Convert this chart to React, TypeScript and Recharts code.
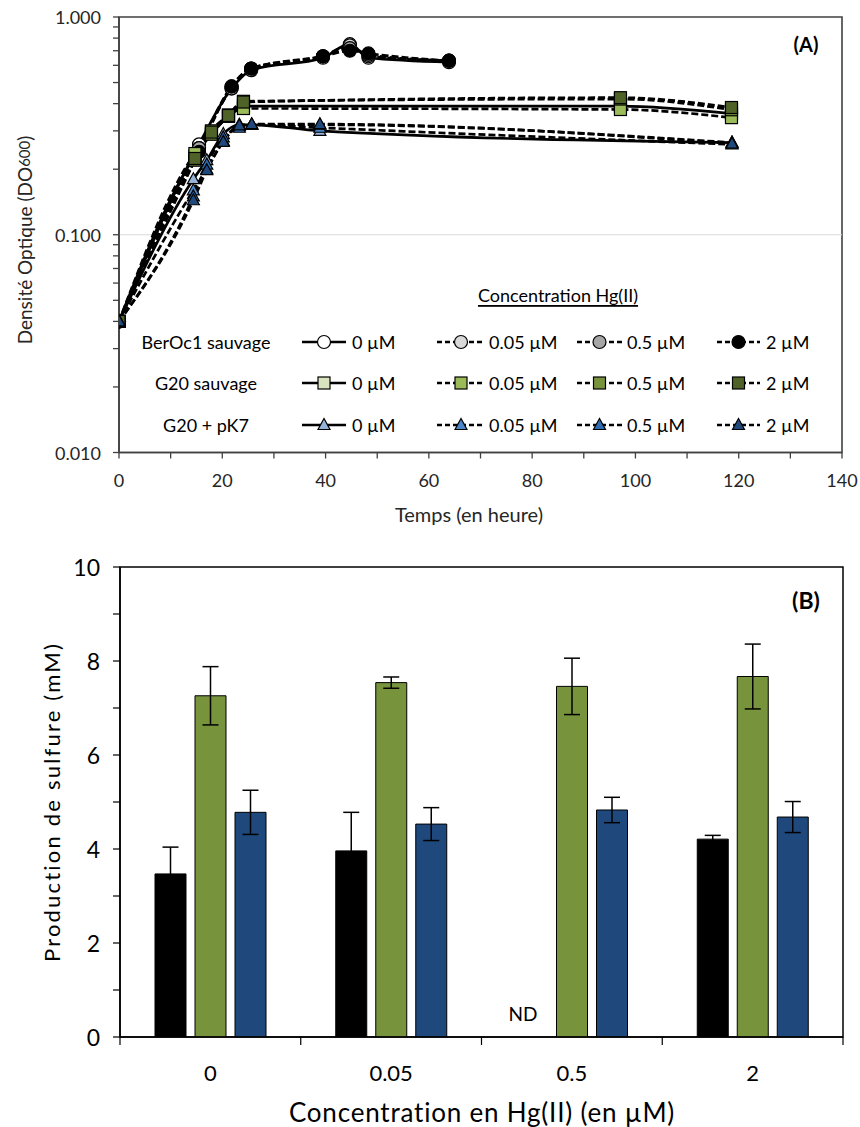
import React from 'react';
import {
  LineChart, Line, XAxis, YAxis, ReferenceLine, ReferenceArea, ReferenceDot,
  BarChart, Bar, ErrorBar,
} from 'recharts';

const FONT = 'Lato, "Open Sans", sans-serif';

// ---------- Panel A data ----------
const berocTimes = [0, 15.5, 21.8, 25.6, 39.5, 44.7, 48.3, 63.9];
const beroc0 = [0.04, 0.26, 0.47, 0.57, 0.65, 0.75, 0.65, 0.62];
const beroc005 = [0.04, 0.25, 0.47, 0.58, 0.66, 0.74, 0.66, 0.63];
const beroc05 = [0.04, 0.25, 0.48, 0.58, 0.66, 0.72, 0.67, 0.63];
const beroc2 = [0.04, 0.24, 0.48, 0.58, 0.66, 0.70, 0.68, 0.63];

const g20Times = [0, 14.7, 17.9, 21.2, 24.1, 97.1, 118.6];
const g200 = [0.04, 0.23, 0.29, 0.35, 0.39, 0.39, 0.36];
const g20005 = [0.04, 0.236, 0.29, 0.35, 0.38, 0.376, 0.345];
const g2005 = [0.04, 0.22, 0.30, 0.355, 0.41, 0.42, 0.375];
const g202 = [0.04, 0.224, 0.296, 0.353, 0.407, 0.426, 0.384];

const pk7Times = [0, 14.4, 17.0, 20.2, 23.3, 25.7, 38.9, 118.7];
const pk70 = [0.04, 0.18, 0.22, 0.29, 0.32, 0.32, 0.30, 0.265];
const pk7005 = [0.04, 0.16, 0.20, 0.27, 0.315, 0.32, 0.31, 0.26];
const pk705 = [0.04, 0.15, 0.21, 0.28, 0.31, 0.32, 0.32, 0.265];
const pk72 = [0.04, 0.144, 0.198, 0.267, 0.318, 0.322, 0.322, 0.262];

const strainNames = ['BerOc1 sauvage', 'G20 sauvage', 'G20 + pK7'];
const concLabels = ['0 µM', '0.05 µM', '0.5 µM', '2 µM'];
const berocColors = ['#FFFFFF', '#D9D9D9', '#A6A6A6', '#000000'];
const g20Colors = ['#D7E4BD', '#9BBB59', '#77933C', '#4F6228'];
const pk7Colors = ['#95B3D7', '#4A86C8', '#2E6BB0', '#1F497D'];

const timeTicks = [0, 10, 20, 30, 40, 50, 60, 70, 80, 90, 100, 110, 120, 130, 140];
const odTicks = [0.01, 0.02, 0.03, 0.04, 0.05, 0.06, 0.07, 0.08, 0.09,
  0.1, 0.2, 0.3, 0.4, 0.5, 0.6, 0.7, 0.8, 0.9, 1];
const odMajor = [0.01, 0.1, 1];

// ---------- Panel B data ----------
const concCategories = ['0', '0.05', '0.5', '2'];
const berocSulfide = [3.47, 3.96, null, 4.21];
const berocSulfideErr = [0.57, 0.82, null, 0.08];
const g20Sulfide = [7.26, 7.54, 7.46, 7.67];
const g20SulfideErr = [0.62, 0.12, 0.6, 0.69];
const pk7Sulfide = [4.78, 4.53, 4.83, 4.68];
const pk7SulfideErr = [0.47, 0.35, 0.27, 0.33];
const barColors = ['#000000', '#77933C', '#1F497D'];
const sulfTicks = [0, 1, 2, 3, 4, 5, 6, 7, 8, 9, 10];

const BAR_SIZE = 31;
const BAR_GAP = 9;

type Shape = 'circle' | 'square' | 'triangle';

const strains: { name: string; shape: Shape; times: number[]; series: number[][]; colors: string[] }[] = [
  { name: strainNames[0], shape: 'circle', times: berocTimes, series: [beroc0, beroc005, beroc05, beroc2], colors: berocColors },
  { name: strainNames[1], shape: 'square', times: g20Times, series: [g200, g20005, g2005, g202], colors: g20Colors },
  { name: strainNames[2], shape: 'triangle', times: pk7Times, series: [pk70, pk7005, pk705, pk72], colors: pk7Colors },
];

function Marker({ shape, cx, cy, fill }: { shape: Shape; cx: number; cy: number; fill: string }) {
  if (shape === 'circle') return <circle cx={cx} cy={cy} r={6.5} fill={fill} stroke="#000" strokeWidth={1.2} />;
  if (shape === 'square') return <rect x={cx - 6} y={cy - 6} width={12} height={12} fill={fill} stroke="#000" strokeWidth={1.2} />;
  return <polygon points={`${cx},${cy - 6.5} ${cx - 6},${cy + 4.5} ${cx + 6},${cy + 4.5}`} fill={fill} stroke="#000" strokeWidth={1.2} />;
}

const makeDot = (shape: Shape, fill: string) => (props: any) => {
  const { cx, cy, index } = props;
  const k = `d-${shape}-${fill}-${index}`;
  if (cx == null || cy == null || isNaN(cx) || isNaN(cy)) return <g key={k} />;
  return <g key={k}><Marker shape={shape} cx={cx} cy={cy} fill={fill} /></g>;
};

const XTickA = (props: any) => {
  const { x, y, payload } = props;
  if (payload.value % 20 !== 0) return <g />;
  return (
    <text x={x} y={y} textAnchor="middle" dominantBaseline="central" fontSize={18} fontFamily={FONT} fill="#262626">
      {payload.value}
    </text>
  );
};

const YTickA = (props: any) => {
  const { x, y, payload } = props;
  const v = payload.value;
  if (!odMajor.some((m) => Math.abs(m - v) < 1e-9)) return <g />;
  return (
    <text x={x} y={y} textAnchor="end" dominantBaseline="central" fontSize={18} fontFamily={FONT} fill="#262626">
      {v.toFixed(3)}
    </text>
  );
};

const YTickB = (props: any) => {
  const { x, y, payload } = props;
  if (payload.value % 2 !== 0) return <g />;
  return (
    <text x={x} y={y} textAnchor="end" dominantBaseline="central" fontSize={23} fontFamily={FONT} fill="#000">
      {payload.value}
    </text>
  );
};

const B_TICK_MARGIN = 35;
const XTickB = (props: any) => {
  const { x, y, payload, index, visibleTicksCount } = props;
  const half = Number(payload.offset) || 0;
  const axisY = y - B_TICK_MARGIN;
  const last = index === (visibleTicksCount ?? concCategories.length) - 1;
  return (
    <g>
      <line x1={x - half} x2={x - half} y1={axisY} y2={axisY + 8} stroke="#000" strokeWidth={1.2} />
      {last && <line x1={x + half} x2={x + half} y1={axisY} y2={axisY + 8} stroke="#000" strokeWidth={1.2} />}
      <text x={x} y={y} textAnchor="middle" dominantBaseline="central" fontSize={22} fontFamily={FONT} fill="#000">
        {payload.value}
      </text>
    </g>
  );
};

const NDShape = (props: any) => {
  const { cx, cy } = props;
  if (cx == null || cy == null) return <g />;
  return (
    <text x={cx - (BAR_SIZE + BAR_GAP) - 9} y={cy - 24} textAnchor="middle" dominantBaseline="central" fontSize={19} fontFamily={FONT} fill="#000">
      ND
    </text>
  );
};

const legendCols = [
  { x1: 302, x2: 346, tx: 352 },
  { x1: 437, x2: 485, tx: 489 },
  { x1: 577, x2: 622, tx: 627 },
  { x1: 717, x2: 760, tx: 766 },
];
const legendRows = [342, 383, 425];

function Overlay() {
  return (
    <svg width={860} height={1127} style={{ position: 'absolute', left: 0, top: 0, pointerEvents: 'none' }} fontFamily={FONT}>
      {/* Panel A titles */}
      <text x={24} y={240} transform="rotate(-90 24 240)" textAnchor="middle" dominantBaseline="central" fontSize={19} fill="#262626">
        Densité Optique (DO<tspan fontSize={15}>600</tspan>)
      </text>
      <text x={469} y={514} textAnchor="middle" dominantBaseline="central" fontSize={20} fill="#262626">Temps (en heure)</text>
      <text x={806} y={44} textAnchor="middle" dominantBaseline="central" fontSize={20} fontWeight="bold" fill="#000">(A)</text>
      {/* Legend */}
      <text x={558} y={295} textAnchor="middle" dominantBaseline="central" fontSize={18} fill="#000" textDecoration="underline">
        Concentration Hg(II)
      </text>
      {strains.map((s, ri) => (
        <g key={s.name}>
          <text x={206} y={legendRows[ri]} textAnchor="middle" dominantBaseline="central" fontSize={18} fill="#000">{s.name}</text>
          {legendCols.map((c, ci) => {
            const y = legendRows[ri];
            const mx = (c.x1 + c.x2) / 2;
            return (
              <g key={ci}>
                <line x1={c.x1} x2={c.x2} y1={y} y2={y} stroke="#000" strokeWidth={2.4} strokeDasharray={ci === 0 ? undefined : '5 3'} />
                <Marker shape={s.shape} cx={mx} cy={y} fill={s.colors[ci]} />
                <text x={c.tx} y={y} dominantBaseline="central" fontSize={18} fill="#000">{concLabels[ci]}</text>
              </g>
            );
          })}
        </g>
      ))}
      {/* Panel B titles */}
      <text x={51} y={802} transform="rotate(-90 51 802)" textAnchor="middle" dominantBaseline="central" fontSize={22} letterSpacing={2.2} fill="#000">
        Production de sulfure (mM)
      </text>
      <text x={482} y={1112} textAnchor="middle" dominantBaseline="central" fontSize={26} letterSpacing={0.8} fill="#000">Concentration en Hg(II) (en µM)</text>
      <text x={806} y={600} textAnchor="middle" dominantBaseline="central" fontSize={23} fontWeight="bold" fill="#000">(B)</text>
    </svg>
  );
}

export default function App() {
  const barData = concCategories.map((c, i) => ({
    conc: c,
    beroc: berocSulfide[i],
    berocErr: berocSulfideErr[i],
    g20: g20Sulfide[i],
    g20Err: g20SulfideErr[i],
    pk7: pk7Sulfide[i],
    pk7Err: pk7SulfideErr[i],
  }));
  const ndIndex = berocSulfide.findIndex((v) => v == null);

  const axisGrey = '#404040';

  return (
    <div style={{ position: 'absolute', left: 0, top: 0, width: 860, height: 1127, background: '#fff' }}>
      <div style={{ position: 'absolute', left: 0, top: 0 }}>
        <LineChart width={860} height={530} margin={{ top: 17, right: 18, bottom: 37.5, left: 59 }}>
          <XAxis
            dataKey="t" type="number" domain={[0, 140]} ticks={timeTicks} height={40}
            axisLine={{ stroke: axisGrey, strokeWidth: 1.6 }} tickLine={{ stroke: axisGrey, strokeWidth: 1.3 }}
            tickSize={6} tickMargin={21} tick={<XTickA />} interval={0} allowDataOverflow
          />
          <YAxis
            type="number" scale="log" domain={[0.01, 1]} ticks={odTicks} width={60} allowDataOverflow
            axisLine={{ stroke: axisGrey, strokeWidth: 1.6 }} tickLine={{ stroke: axisGrey, strokeWidth: 1.3 }}
            tickSize={6} tickMargin={12} tick={<YTickA />} interval={0}
          />
          <ReferenceLine y={0.1} stroke="#D9D9D9" strokeWidth={1} />
          <ReferenceArea x1={0} x2={140} y1={0.01} y2={1} fill="none" stroke={axisGrey} strokeWidth={1.6} fillOpacity={0} />
          {strains.map((s) =>
            s.series.map((vals, ci) => (
              <Line
                key={`${s.name}-${ci}`}
                data={s.times.map((t, i) => ({ t, v: vals[i] }))}
                dataKey="v"
                type="monotone"
                stroke="#000"
                strokeWidth={2.7}
                strokeDasharray={ci === 0 ? undefined : '7 3'}
                dot={makeDot(s.shape, s.colors[ci])}
                activeDot={false}
                isAnimationActive={false}
                legendType="none"
              />
            ))
          )}
        </LineChart>
      </div>
      <div style={{ position: 'absolute', left: 0, top: 530 }}>
        <BarChart width={860} height={597} data={barData} margin={{ top: 37, right: 17, bottom: 40, left: 60 }} barSize={BAR_SIZE} barGap={BAR_GAP}>
          <XAxis
            dataKey="conc" type="category" height={50}
            axisLine={{ stroke: '#000', strokeWidth: 1.5 }} tickLine={false}
            tickSize={0} tickMargin={B_TICK_MARGIN} tick={<XTickB />} interval={0}
          />
          <YAxis
            type="number" domain={[0, 10]} ticks={sulfTicks} width={60} interval={0} allowDataOverflow
            axisLine={{ stroke: '#000', strokeWidth: 1.5 }} tickLine={{ stroke: '#000', strokeWidth: 1.2 }}
            tickSize={7} tickMargin={13} tick={<YTickB />}
          />
          <ReferenceArea x1={concCategories[0]} x2={concCategories[concCategories.length - 1]} y1={0} y2={10}
            fill="none" fillOpacity={0} stroke="#000" strokeWidth={1.5} />
          <Bar dataKey="beroc" fill={barColors[0]} stroke="#000" strokeWidth={1} isAnimationActive={false}>
            <ErrorBar dataKey="berocErr" width={8} stroke="#000" strokeWidth={1.5} direction="y" />
          </Bar>
          <Bar dataKey="g20" fill={barColors[1]} stroke="#000" strokeWidth={1} isAnimationActive={false}>
            <ErrorBar dataKey="g20Err" width={8} stroke="#000" strokeWidth={1.5} direction="y" />
          </Bar>
          <Bar dataKey="pk7" fill={barColors[2]} stroke="#000" strokeWidth={1} isAnimationActive={false}>
            <ErrorBar dataKey="pk7Err" width={8} stroke="#000" strokeWidth={1.5} direction="y" />
          </Bar>
          {ndIndex >= 0 && (
            <ReferenceDot x={concCategories[ndIndex]} y={0} r={0} shape={<NDShape />} ifOverflow="visible" />
          )}
        </BarChart>
      </div>
      <Overlay />
    </div>
  );
}
